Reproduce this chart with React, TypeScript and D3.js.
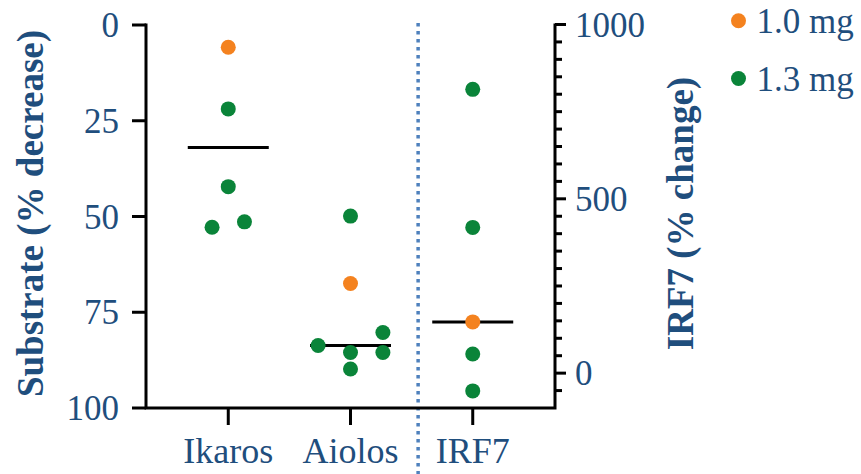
import React from "react";
import * as d3 from "d3";

// ---- data ----
const categories = ["Ikaros", "Aiolos", "IRF7"];
const doses = ["1.0 mg", "1.3 mg"];
const doseColors = ["#f4821f", "#0a8439"];

// substrate (% decrease), left axis
const ikarosValues = [5.8, 21.9, 42.2, 52.8, 51.4];
const ikarosDose = [0, 1, 1, 1, 1];
const ikarosSlot = [0, 0, 0, -1, 1];

const aiolosValues = [49.9, 67.5, 80.3, 83.7, 85.5, 85.5, 89.8];
const aiolosDose = [1, 0, 1, 1, 1, 1, 1];
const aiolosSlot = [0, 0, 2, -2, 0, 2, 0];

// IRF7 (% change), right axis
const irf7Values = [814, 418, 147, 55, -51];
const irf7Dose = [1, 1, 0, 1, 1];
const irf7Slot = [0, 0, 0, 0, 0];

const centerLines = [32, 83.7, 147];

const leftTicks = [0, 25, 50, 75, 100];
const rightMajorTicks = [0, 500, 1000];
const rightMinorTicks = d3.range(-50, 1001, 50);

const W = 861, H = 474;
const TEXT = "#1f4e7d";
const FONT = "Liberation Serif, Times New Roman, Times, serif";

export default function App() {
  const xLeft = 146, xRight = 555, yTop = 25, yBottom = 408;
  const x = d3.scalePoint<string>().domain(categories).range([xLeft, xRight]).padding(0.673);
  const yL = d3.scaleLinear().domain([0, 100]).range([yTop, yBottom]);
  const yR = d3.scaleLinear().domain([-100, 1000]).range([yBottom, yTop - 0.5]);
  const slotW = 16.2;
  const r = 7.5;

  const groups = [
    { cat: "Ikaros", vals: ikarosValues, dose: ikarosDose, slot: ikarosSlot, y: yL },
    { cat: "Aiolos", vals: aiolosValues, dose: aiolosDose, slot: aiolosSlot, y: yL },
    { cat: "IRF7", vals: irf7Values, dose: irf7Dose, slot: irf7Slot, y: yR },
  ];
  const divider = (x("Aiolos")! + x("IRF7")!) / 2 + 6.5;

  return (
    <svg width={W} height={H} style={{ position: "absolute", left: 0, top: 0, fontFamily: FONT }}>
      <rect width={W} height={H} fill="#fff" />
      {/* divider */}
      <line x1={divider} x2={divider} y1={yTop - 2} y2={H} stroke="#4f81bd" strokeWidth={3.5} strokeDasharray="3.5 4.5" />

      {/* axes */}
      <g stroke="#000" strokeWidth={3} fill="none">
        <path d={`M${xLeft},${yTop - 1.5}V${yBottom}H${xRight}V${yTop - 1.5}`} />
        {leftTicks.map((t) => (
          <line key={"l" + t} x1={xLeft - 14} x2={xLeft} y1={yL(t)} y2={yL(t)} />
        ))}
        {rightMinorTicks.map((t) => (
          <line key={"rm" + t} x1={xRight} x2={xRight + (t % 500 === 0 ? 11 : 7)} y1={yR(t)} y2={yR(t)} />
        ))}
        <line x1={xRight} x2={xRight + 11} y1={yR(1000)} y2={yR(1000)} />
        {categories.map((c) => (
          <line key={"b" + c} x1={x(c)} x2={x(c)} y1={yBottom} y2={yBottom + 17} />
        ))}
      </g>

      {/* tick labels */}
      <g style={{ fontFamily: FONT }} fontSize={35} fill={TEXT}>
        {leftTicks.map((t) => (
          <text key={"lt" + t} x={xLeft - 27} y={yL(t) + 12} textAnchor="end">{t}</text>
        ))}
        {rightMajorTicks.map((t) => (
          <text key={"rt" + t} x={xRight + 20} y={yR(t) + 12} textAnchor="start">{t}</text>
        ))}
        {categories.map((c) => (
          <text key={"xt" + c} x={x(c)} y={463} fontSize={36} textAnchor="middle">{c}</text>
        ))}
      </g>

      {/* axis titles */}
      <g style={{ fontFamily: FONT }} fontSize={37} fontWeight="bold" fill={TEXT} textAnchor="middle">
        <text transform={`translate(43,${(yTop + yBottom) / 2 - 3}) rotate(-90)`}>Substrate (% decrease)</text>
        <text transform={`translate(693,${(yTop + yBottom) / 2 - 3}) rotate(-90)`}>IRF7 (% change)</text>
      </g>

      {/* center lines */}
      <g stroke="#000" strokeWidth={3}>
        {groups.map((g, i) => (
          <line key={"c" + i} x1={x(g.cat)! - 40.5} x2={x(g.cat)! + 40.5} y1={g.y(centerLines[i])} y2={g.y(centerLines[i])} />
        ))}
      </g>

      {/* points */}
      {groups.map((g) =>
        g.vals.map((v, j) => (
          <circle key={g.cat + j} cx={x(g.cat)! + g.slot[j] * slotW} cy={g.y(v)} r={r} fill={doseColors[g.dose[j]]} />
        ))
      )}

      {/* legend */}
      <g style={{ fontFamily: FONT }} fontSize={35} fill={TEXT}>
        {doses.map((d, i) => (
          <g key={d} transform={`translate(738.5,${20.7 + i * 57.8})`}>
            <circle r={r} fill={doseColors[i]} />
            <text x={18} y={12}>{d}</text>
          </g>
        ))}
      </g>
    </svg>
  );
}
